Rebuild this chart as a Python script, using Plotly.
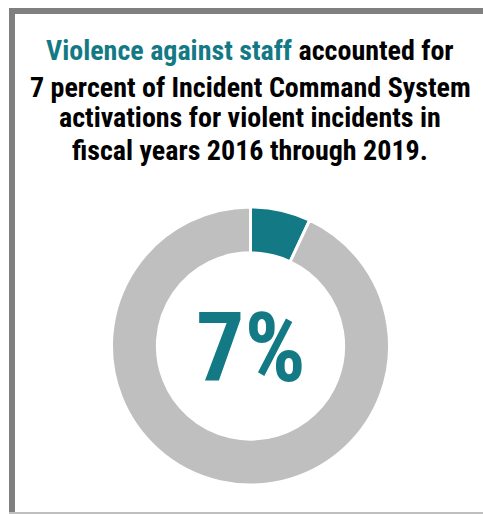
import plotly.graph_objects as go

W, H = 483, 514

categories = ["Violence against staff", "Other violent incidents"]
values = [7, 93]
slice_colors = ["#137a85", "#bfbfbf"]
big_label = "7%"
title_lines = [
    "<span style='color:#137a85'>Violence against staff</span> accounted for",
    "7 percent of Incident Command System",
    "activations for violent incidents in",
    "fiscal years 2016 through 2019.",
]
title_y_px = [51, 87, 118, 150]  # centre of each title line, px from top

FONT = "Roboto Condensed, Liberation Sans, Arial, sans-serif"

cx, cy, r = 250.5, 346, 139

fig = go.Figure(go.Pie(
    labels=categories,
    values=values,
    hole=0.67,
    sort=False,
    direction="clockwise",
    rotation=0,
    marker=dict(colors=slice_colors, line=dict(color="white", width=3)),
    textinfo="none",
    hoverinfo="label+percent",
    showlegend=False,
    domain=dict(x=[(cx - r) / W, (cx + r) / W], y=[(H - cy - r) / H, (H - cy + r) / H]),
))

ann = []
for t, ypx in zip(title_lines, title_y_px):
    ann.append(dict(
        text="<b>" + t + "</b>", x=250 / W, y=1 - ypx / H, xref="paper", yref="paper",
        xanchor="center", yanchor="middle", showarrow=False,
        font=dict(family=FONT, size=28, color="#000000"),
    ))
ann.append(dict(
    text="<b>" + big_label + "</b>", x=cx / W, y=1 - (cy + 2) / H, xref="paper", yref="paper",
    xanchor="center", yanchor="middle", showarrow=False,
    font=dict(family=FONT, size=96, color="#137a85"),
))

shapes = [
    dict(type="rect", xref="paper", yref="paper", x0=9 / W, x1=15 / W, y0=0, y1=1 - 8 / H,
         fillcolor="#7f7f7f", line=dict(width=0), layer="above"),
    dict(type="rect", xref="paper", yref="paper", x0=9 / W, x1=1, y0=1 - 14 / H, y1=1 - 8 / H,
         fillcolor="#7f7f7f", line=dict(width=0), layer="above"),
    dict(type="rect", xref="paper", yref="paper", x0=9 / W, x1=1, y0=0, y1=2 / H,
         fillcolor="#bfbfbf", line=dict(width=0), layer="above"),
]

fig.update_layout(
    width=W, height=H,
    margin=dict(l=0, r=0, t=0, b=0),
    paper_bgcolor="white", plot_bgcolor="white",
    annotations=ann, shapes=shapes,
)

fig.write_html("out.html", include_plotlyjs=True, config={"displayModeBar": False})
